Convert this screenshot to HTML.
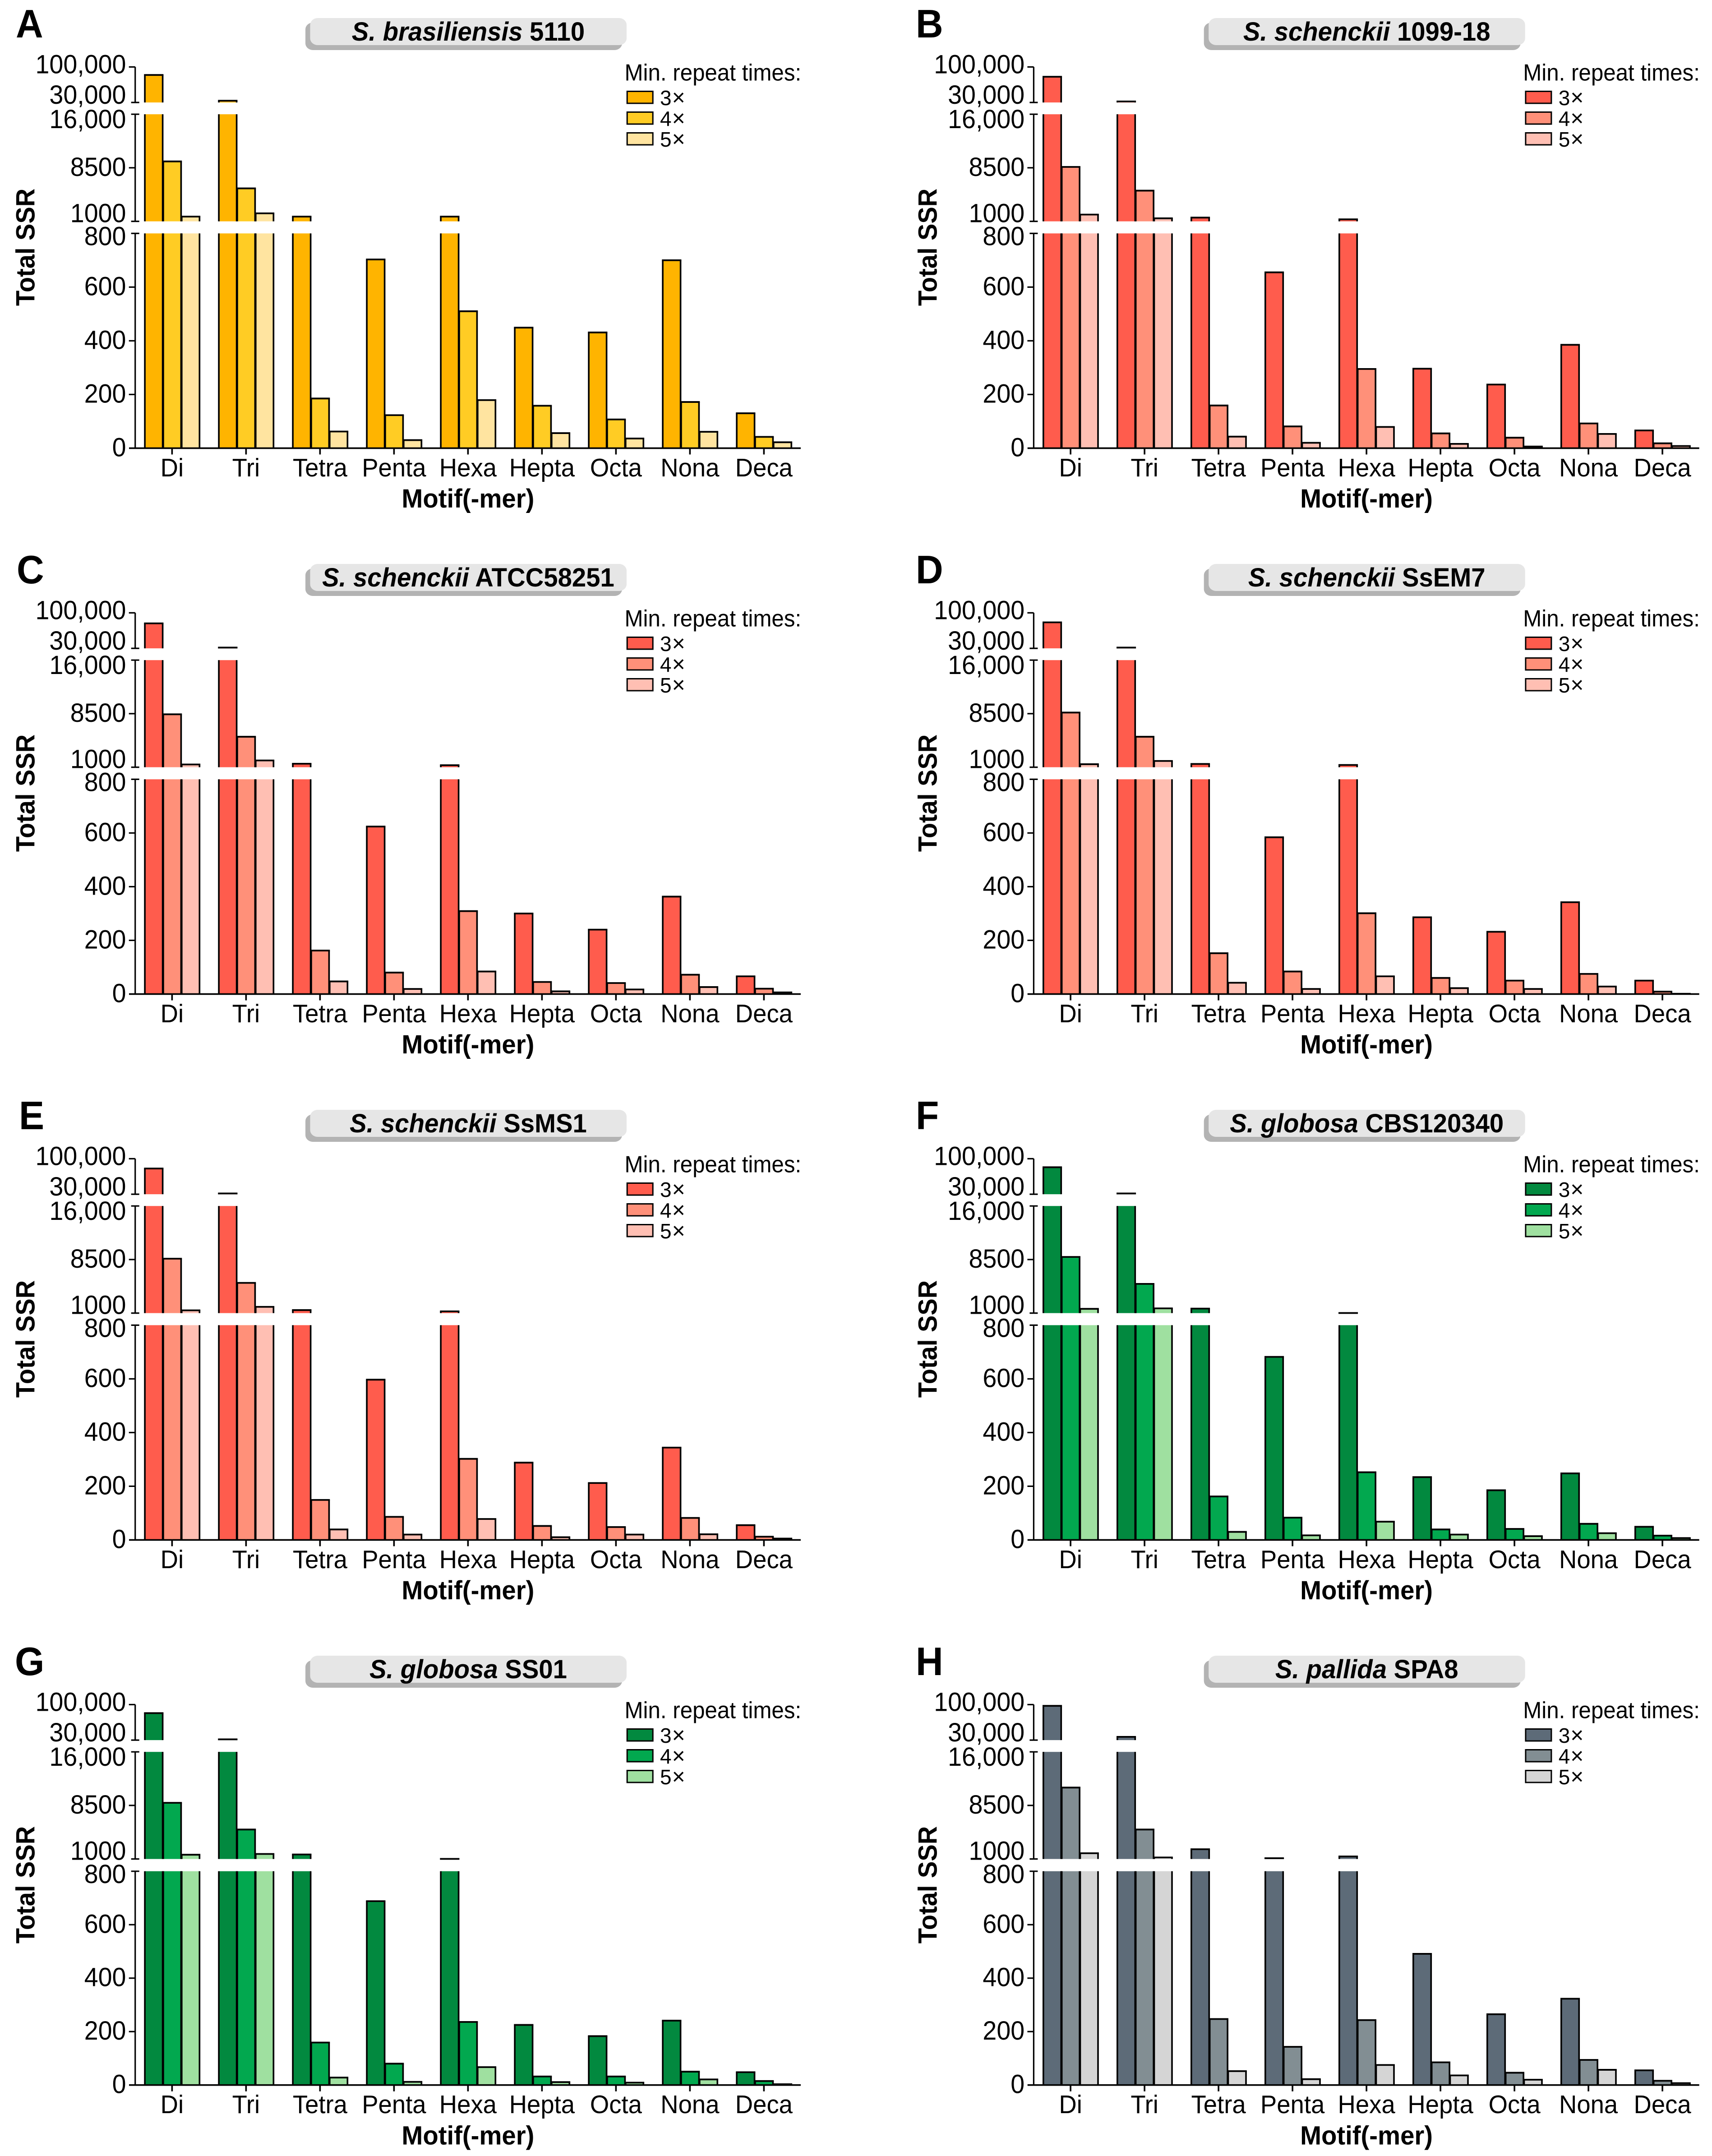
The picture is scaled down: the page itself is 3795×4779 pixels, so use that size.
<!DOCTYPE html>
<html lang="en">
<head>
<meta charset="utf-8">
<title>SSR motif counts across Sporothrix genomes</title>
<style>
  html, body { margin: 0; padding: 0; background: #ffffff; }
  svg { display: block; font-family: "Liberation Sans", Arial, sans-serif; }
</style>
</head>
<body>
<svg id="figure" xmlns="http://www.w3.org/2000/svg" width="3795" height="4779" viewBox="0 0 3795 4779"></svg>
<script>
// ---- shared chart data ----
const categories = ['Di', 'Tri', 'Tetra', 'Penta', 'Hexa', 'Hepta', 'Octa', 'Nona', 'Deca'];
const seriesDigits = ['3', '4', '5'];
const yTickValues = [100000, 30000, 16000, 8500, 1000, 800, 600, 400, 200, 0];
const yTickLabels = ['100,000', '30,000', '16,000', '8500', '1000', '800', '600', '400', '200', '0'];
const panelLetters = ['A', 'B', 'C', 'D', 'E', 'F', 'G', 'H'];
const panelSpecies = ['S. brasiliensis', 'S. schenckii', 'S. schenckii', 'S. schenckii', 'S. schenckii', 'S. globosa', 'S. globosa', 'S. pallida'];
const panelStrains = ['5110', '1099-18', 'ATCC58251', 'SsEM7', 'SsMS1', 'CBS120340', 'SS01', 'SPA8'];

// ---- series values (one array per panel and repeat threshold) ----
const a3x = [84200, 33450, 1664, 703, 1664, 449, 431, 700, 130];
const a4x = [9390, 5615, 185, 123, 510, 158, 107, 172, 42];
const a5x = [1664, 2119, 62, 30, 179, 56, 36, 61, 22];
const b3x = [80700, 32000, 1524, 655, 1280, 296, 237, 385, 66];
const b4x = [8620, 5300, 159, 81, 295, 55, 39, 92, 18];
const b5x = [1944, 1420, 43, 20, 79, 16, 6, 53, 8];
const c3x = [79260, 31500, 1490, 624, 1280, 300, 240, 363, 66];
const c4x = [8412, 5266, 162, 80, 309, 45, 41, 72, 20];
const c5x = [1385, 1944, 47, 19, 84, 10, 17, 26, 6];
const d3x = [81200, 31500, 1455, 584, 1315, 286, 232, 342, 50];
const d4x = [8657, 5266, 152, 84, 301, 60, 50, 75, 9];
const d5x = [1420, 1874, 42, 19, 66, 22, 19, 28, 1];
const e3x = [80700, 31500, 1420, 597, 1245, 288, 212, 344, 55];
const e4x = [8622, 5231, 149, 86, 302, 52, 48, 82, 12];
const e5x = [1385, 1874, 39, 20, 78, 10, 20, 21, 5];
const f3x = [83200, 31500, 1629, 682, 1010, 234, 185, 248, 49];
const f4x = [8867, 5091, 162, 83, 252, 39, 41, 60, 16];
const f5x = [1594, 1664, 30, 17, 68, 20, 14, 25, 7];
const g3x = [83200, 31500, 1629, 688, 1010, 225, 183, 241, 48];
const g4x = [8867, 5126, 159, 80, 236, 32, 32, 50, 15];
const g5x = [1594, 1700, 28, 12, 67, 11, 9, 21, 3];
const h3x = [97500, 36400, 2364, 1105, 1350, 491, 265, 323, 55];
const h4x = [11000, 5126, 247, 143, 243, 85, 46, 94, 16];
const h5x = [1804, 1210, 52, 22, 75, 36, 20, 57, 7];
const panelSeries = [
  [a3x, a4x, a5x], [b3x, b4x, b5x], [c3x, c4x, c5x], [d3x, d4x, d5x],
  [e3x, e4x, e5x], [f3x, f4x, f5x], [g3x, g4x, g5x], [h3x, h4x, h5x]
];

// ---- palettes ----
const orangeShades = ['#ffb400', '#ffcc24', '#ffe4a0'];
const redShades = ['#ff5c4d', '#ff9079', '#ffbfb3'];
const greenShades = ['#02893f', '#02a84f', '#9fe0a0'];
const slateShades = ['#5d6b78', '#828e93', '#d5d5d5'];
const panelPalettes = [orangeShades, redShades, redShades, redShades, redShades, greenShades, greenShades, slateShades];

// ---- layout ----
const COL_DX = 1991.7;
const ROW_DY = 1210;
const AXIS_X = 299.7;
const FIRST_GROUP_X = 381.4;
const GROUP_STEP = 164;
const BAR_PITCH = 40.85;
const BAR_W = 39.5;
const BAR_SHIFT = 0.3;
const TEXT_STRETCH = 1.045;
const SEGMENTS = [[0, 800], [1000, 16000], [30000, 100000]];
const NS = 'http://www.w3.org/2000/svg';
const root = document.getElementById('figure');

function svgEl(tag, attrs, parent) {
  const el = document.createElementNS(NS, tag);
  for (const k in attrs) el.setAttribute(k, attrs[k]);
  parent.appendChild(el);
  return el;
}

// Taller glyph proportions, anchored on the baseline.
function stretchMatrix(y) {
  return 'matrix(1 0 0 ' + TEXT_STRETCH + ' 0 ' + (-(TEXT_STRETCH - 1) * y) + ')';
}

function svgText(attrs, parent) {
  const el = svgEl('text', attrs, parent);
  el.setAttribute('transform', stretchMatrix(attrs.y));
  return el;
}

// Broken value axis: three linear pieces, in row-relative pixels.
function axisY(v, row) {
  const off = row * ROW_DY;
  if (v >= 30000) return off + 227.1 + (v - 30000) * (148.4 - 227.1) / 70000;
  if (v >= 1000) return off + 490.6 + (v - 1000) * (253.2 - 490.6) / 15000;
  const zero = 993.4 - (row === 3 ? 1.7 : 0);
  const top = 517.4 + (row === 3 ? 0.4 : 0);
  return off + zero + v * (top - zero) / 800;
}

function groupX(i, dx) {
  return dx + FIRST_GROUP_X + i * GROUP_STEP;
}

// Baseline nudge of each y tick label relative to its tick (labels avoid the axis breaks).
function tickLabelNudge(v) {
  if (v === 100000) return 14;
  if (v === 30000) return 3;
  if (v === 16000) return 31;
  if (v === 1000) return 2;
  if (v === 800) return 26;
  return 18;
}

function isBreakTick(v) {
  return v === 30000 || v === 16000 || v === 1000 || v === 800;
}

function drawBar(parent, value, cx, color, row) {
  const left = cx - BAR_W / 2;
  const right = cx + BAR_W / 2;
  let fill = '';
  let edge = '';
  let cap = '';
  SEGMENTS.forEach(function (seg) {
    if (value <= seg[0] && seg[0] !== 0) return;
    const topV = Math.min(value, seg[1]);
    const yBottom = axisY(seg[0], row);
    const yTop = axisY(topV, row);
    fill += 'M' + left + ' ' + yBottom + 'H' + right + 'V' + yTop + 'H' + left + 'Z';
    edge += 'M' + left + ' ' + yBottom + 'V' + yTop + 'M' + right + ' ' + yTop + 'V' + yBottom;
    if (value <= seg[1]) cap += 'M' + (left - 1.8) + ' ' + yTop + 'H' + (right + 1.8);
  });
  svgEl('path', { d: fill, fill: color, stroke: 'none' }, parent);
  svgEl('path', { d: edge, fill: 'none', stroke: '#000', 'stroke-width': 3.6 }, parent);
  svgEl('path', { d: cap, fill: 'none', stroke: '#000', 'stroke-width': 3.8 }, parent);
}

function drawPanel(p) {
  const col = p % 2;
  const row = Math.floor(p / 2);
  const dx = col * COL_DX;
  const dy = row * ROW_DY;
  const letter = panelLetters[p];
  const palette = panelPalettes[p];
  const series = panelSeries[p];

  const panel = svgEl('g', {}, root);
  
  

  // panel letter
  const letterX = { A: 35, C: 37, E: 42, G: 33 }[letter] || 2030;
  const letterEl = svgText({ x: letterX, y: 83 + dy, 'font-size': 84, 'font-weight': 'bold', fill: '#000' }, panel);
  
  
  letterEl.textContent = letter;

  // title pill
  const pill = svgEl('g', {}, panel);
  
  
  svgEl('rect', { x: 677 + dx, y: 50 + dy, width: 702, height: 61, rx: 17, ry: 15, fill: '#b3b3b3' }, pill);
  svgEl('rect', { x: 687.5 + dx, y: 40 + dy, width: 701.5, height: 60, rx: 17, ry: 15, fill: '#e6e6e6' }, pill);
  const title = svgText({ x: 1038 + dx, y: 90 + dy, 'font-size': 56.3, 'font-weight': 'bold', 'text-anchor': 'middle', fill: '#000' }, pill);
  
  
  const italic = svgEl('tspan', { 'font-style': 'italic' }, title);
  italic.textContent = panelSpecies[p];
  const strain = svgEl('tspan', {}, title);
  strain.textContent = ' ' + panelStrains[p];

  // bars
  categories.forEach(function (cat, i) {
    const group = svgEl('g', {}, panel);
    
    
    series.forEach(function (values, s) {
      const barG = svgEl('g', {}, group);
      
      
      drawBar(barG, values[i], groupX(i, dx) + BAR_SHIFT + (s - 1) * BAR_PITCH, palette[s], row);
    });
  });

  // y axis
  const axisLineX = AXIS_X + dx;
  const yAxis = svgEl('g', { stroke: '#000', 'stroke-width': 3.2, fill: 'none' }, panel);
  
  
  SEGMENTS.forEach(function (seg) {
    const spine = svgEl('line', { x1: axisLineX, x2: axisLineX, y1: axisY(seg[0], row), y2: axisY(seg[1], row) }, yAxis);
    
    
  });
  yTickValues.forEach(function (v, i) {
    const y = axisY(v, row);
    if (v !== 0) {
      const broken = isBreakTick(v);
      const tick = svgEl('line', { x1: axisLineX - (broken ? 9 : 14), x2: axisLineX + (broken ? 9 : 0), y1: y, y2: y }, yAxis);
      
      
    }
    const label = svgText({ x: 279.5 + dx, y: y + tickLabelNudge(v), 'font-size': 55.6, 'text-anchor': 'end', fill: '#000', stroke: 'none' }, yAxis);
    
    
    label.textContent = yTickLabels[i];
  });

  // y axis title
  const yTitleX = 76.5 + col * 2000;
  const yTitleY = 548 + dy;
  const yTitle = svgEl('text', { x: yTitleX, y: yTitleY, 'font-size': 56, 'font-weight': 'bold', 'text-anchor': 'middle', fill: '#000', transform: 'rotate(-90 ' + yTitleX + ' ' + yTitleY + ') matrix(1 0 0 ' + TEXT_STRETCH + ' 0 ' + (-(TEXT_STRETCH - 1) * yTitleY) + ')' }, panel);
  
  
  yTitle.textContent = 'Total SSR';

  // x axis
  const zeroY = axisY(0, row);
  const xAxis = svgEl('g', { stroke: '#000', fill: 'none' }, panel);
  
  
  const xLine = svgEl('line', { x1: 286 + dx, x2: 1775 + dx, y1: zeroY, y2: zeroY, 'stroke-width': 3.6 }, xAxis);
  
  
  categories.forEach(function (cat, i) {
    const tx = groupX(i, dx);
    const tick = svgEl('line', { x1: tx, x2: tx, y1: zeroY, y2: zeroY + 14, 'stroke-width': 3.6 }, xAxis);
    
    
    const label = svgText({ x: tx, y: zeroY + 62.5, 'font-size': 54.5, 'text-anchor': 'middle', fill: '#000', stroke: 'none' }, xAxis);
    
    
    label.textContent = cat;
  });
  const xTitle = svgText({ x: groupX(4, dx), y: zeroY + 131.6, 'font-size': 56.3, 'font-weight': 'bold', 'text-anchor': 'middle', fill: '#000' }, panel);
  
  
  xTitle.textContent = 'Motif(-mer)';

  // legend
  const legend = svgEl('g', {}, panel);
  
  
  const legendTitle = svgText({ x: 1384.5 + dx, y: 178.7 + dy, 'font-size': 49.3, fill: '#000' }, legend);
  
  
  legendTitle.textContent = 'Min. repeat times:';
  seriesDigits.forEach(function (digit, s) {
    const entry = svgEl('g', {}, legend);
    
    
    const swatch = svgEl('rect', { x: 1390.2 + dx, y: 202.5 + dy + s * 46, width: 57, height: 26.5, fill: palette[s], stroke: '#000', 'stroke-width': 3 }, entry);
    
    
    const text = svgEl('text', { x: 1463 + dx, y: 233 + dy + s * 46, 'font-size': 46, fill: '#000' }, entry);
    
    
    text.textContent = digit;
    const times = svgEl('tspan', { 'font-size': 50, dx: 1 }, text);
    times.textContent = '×';
  });
}

panelLetters.forEach(function (_, p) { drawPanel(p); });
</script>
</body>
</html>
